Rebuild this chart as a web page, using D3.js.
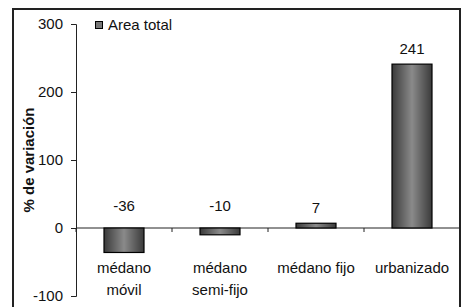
<!DOCTYPE html>
<html lang="es">
<head>
<meta charset="utf-8">
<script src="https://d3js.org/d3.v7.min.js"></script>
<style>
  body { margin: 0; background: #fff; }
  svg { display: block; }
  text { font-family: "Liberation Sans", Arial, sans-serif; font-size: 15px; fill: #111; }
  .domain, .tick line { stroke: #222; }
  .frame { stroke: #222; stroke-width: 2px; }
</style>
</head>
<body>
<script>
var categories = [["médano", "móvil"], ["médano", "semi-fijo"], ["médano fijo"], ["urbanizado"]];
var values = [-36, -10, 7, 241];
var yTicks = [-100, 0, 100, 200, 300];
var seriesName = "Area total";

var width = 462, height = 307;
var svg = d3.select("body").append("svg").attr("width", width).attr("height", height);

// gradient for the cylinder-like bars
var grad = svg.append("defs").append("linearGradient").attr("id", "barGrad")
  .attr("x1", "0%").attr("x2", "100%").attr("y1", "0%").attr("y2", "0%");
grad.append("stop").attr("offset", "0%").attr("stop-color", "#3a3a3a");
grad.append("stop").attr("offset", "50%").attr("stop-color", "#8a8a8a");
grad.append("stop").attr("offset", "100%").attr("stop-color", "#3a3a3a");

// outer frame: left, top and right edges
var frame = [[13, 9, 13, 307], [12, 9, 461, 9], [460, 9, 460, 307]];
svg.selectAll("line.frame").data(frame).enter().append("line").attr("class", "frame")
  .attr("x1", function(d) { return d[0]; }).attr("y1", function(d) { return d[1]; })
  .attr("x2", function(d) { return d[2]; }).attr("y2", function(d) { return d[3]; });

var left = 76, right = 460;
var x = d3.scaleBand().domain(d3.range(categories.length)).range([left, right]).padding(0);
var y = d3.scaleLinear().domain([-100, 300]).range([296, 24]);

// y axis
svg.append("g").attr("transform", "translate(" + left + ",0)")
  .call(d3.axisLeft(y).tickValues(yTicks).tickSize(5).tickPadding(8).tickFormat(String))
  .call(function(g) {
    g.attr("font-size", null).attr("font-family", null);
    g.selectAll("text").style("font-size", "15px");
  });

// x axis at zero with ticks between categories
var xb = x.domain().map(function(d) { return x(d); }).concat([right]);
var gx = svg.append("g");
gx.append("line").attr("x1", left).attr("x2", right).attr("y1", y(0)).attr("y2", y(0))
  .attr("stroke", "#222");
gx.selectAll("line.t").data(xb).enter().append("line").attr("class", "t")
  .attr("x1", function(d) { return d; }).attr("x2", function(d) { return d; })
  .attr("y1", y(0)).attr("y2", y(0) + 4).attr("stroke", "#222");

// bars
var barW = 40;
svg.selectAll("rect.bar").data(values).enter().append("rect").attr("class", "bar")
  .attr("x", function(d, i) { return x(i) + x.bandwidth() / 2 - barW / 2; })
  .attr("y", function(d) { return y(Math.max(d, 0)); })
  .attr("width", barW)
  .attr("height", function(d) { return Math.abs(y(d) - y(0)); })
  .attr("fill", "url(#barGrad)").attr("stroke", "#000").attr("stroke-width", 1.2);

// value labels
svg.selectAll("text.val").data(values).enter().append("text").attr("class", "val")
  .attr("x", function(d, i) { return x(i) + x.bandwidth() / 2; })
  .attr("y", function(d) { return d < 0 ? y(0) - 17 : y(d) - 10; })
  .attr("text-anchor", "middle").text(function(d) { return d; });

// category labels
var cl = svg.selectAll("text.cat").data(categories).enter().append("text").attr("class", "cat")
  .attr("text-anchor", "middle")
  .attr("transform", function(d, i) { return "translate(" + (x(i) + x.bandwidth() / 2) + "," + 273 + ")"; });
cl.selectAll("tspan").data(function(d) { return d; }).enter().append("tspan")
  .attr("x", 0).attr("y", function(d, j) { return j * 22; }).text(function(d) { return d; });

// y axis title
svg.append("text").attr("transform", "translate(34,160) rotate(-90)")
  .attr("text-anchor", "middle").style("font-weight", "bold").text("% de variación");

// legend
svg.append("rect").attr("x", 95.5).attr("y", 21.5).attr("width", 7).attr("height", 7)
  .attr("fill", "#777").attr("stroke", "#000");
svg.append("text").attr("x", 108).attr("y", 30).text(seriesName);
</script>
</body>
</html>
